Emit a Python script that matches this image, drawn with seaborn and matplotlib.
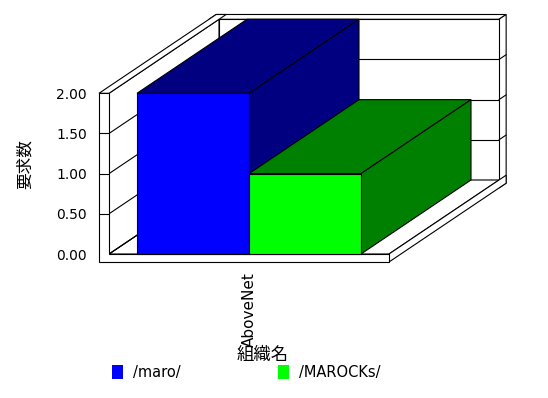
import pandas as pd
import matplotlib
matplotlib.use('Agg')
import matplotlib.pyplot as plt
from matplotlib.patches import Polygon, Patch
import seaborn as sns

# chart values
organizations = ['AboveNet']
series_names = ['/maro/', '/MAROCKs/']
request_counts = [2, 1]
y_ticks = [0.0, 0.5, 1.0, 1.5, 2.0]

front_colors = ['#0000ff', '#00ff00']
shade_colors = ['#000080', '#008000']

df = pd.DataFrame({
    '組織名': organizations * len(series_names),
    'series': series_names,
    '要求数': request_counts,
})

sns.set_style('white', {'text.color': 'black', 'axes.labelcolor': 'black',
                        'xtick.color': 'black', 'ytick.color': 'black'})
plt.rcParams['font.family'] = ['DejaVu Sans', 'Noto Sans CJK JP']

# pseudo 3d geometry (pixels per data unit)
PX_U = 112.0
PX_V = 80.35
du, dv = 110.0 / PX_U, 74.0 / PX_V   # depth offset in data units
WALL = 10.0 / PX_U                   # left wall thickness
FLOOR = 8.0 / PX_V                   # floor thickness
BACK = 1.065                         # depth of the back face of the walls
half = 1.25                          # half width of the floor
vmax = max(y_ticks)

W, H = 548, 398
fig = plt.figure(figsize=(W / 100, H / 100), dpi=100)
left_px, right_px, top_px, bot_px = 99, 508, 14, 262
ax = fig.add_axes([left_px / W, 1 - bot_px / H,
                   (right_px - left_px) / W, (bot_px - top_px) / H])

sns.barplot(data=df, x='組織名', y='要求数', hue='series', palette=front_colors,
            width=2, saturation=1, errorbar=None, edgecolor='black',
            linewidth=0.8, legend=False, zorder=6, ax=ax)

x_lo = -half - WALL
y_lo = -FLOOR
ax.set_xlim(x_lo, x_lo + (right_px - left_px) / PX_U)
ax.set_ylim(y_lo, y_lo + (bot_px - top_px) / PX_V)


def proj(u, v, z):
    return (u + z * du, v + z * dv)


def face(pts, fc='white', zorder=1):
    poly = Polygon([proj(*p) for p in pts], closed=True, facecolor=fc,
                   edgecolor='black', linewidth=0.8, zorder=zorder,
                   clip_on=False, joinstyle='miter')
    ax.add_patch(poly)


def line(p0, p1, zorder=1.5):
    a, b = proj(*p0), proj(*p1)
    ax.plot([a[0], b[0]], [a[1], b[1]], color='black', lw=0.8,
            zorder=zorder, clip_on=False)


# back wall
face([(x_lo, vmax, 1), (half, vmax, 1), (half, vmax, BACK), (x_lo, vmax, BACK)])
face([(half, y_lo, 1), (half, vmax, 1), (half, vmax, BACK), (half, y_lo, BACK)])
face([(-half, 0, 1), (half, 0, 1), (half, vmax, 1), (-half, vmax, 1)])
for t in y_ticks[1:-1]:
    line((-half, t, 1), (half, t, 1))
    line((half, t, 1), (half, t, BACK))

# floor
face([(-half, 0, 0), (half, 0, 0), (half, 0, 1), (-half, 0, 1)], zorder=1.6)
face([(half, y_lo, 0), (half, 0, 0), (half, 0, BACK), (half, y_lo, BACK)], zorder=1.6)

# left wall
face([(-half, 0, 0), (-half, vmax, 0), (-half, vmax, 1), (-half, 0, 1)], zorder=1.7)
face([(x_lo, vmax, 0), (-half, vmax, 0), (-half, vmax, BACK), (x_lo, vmax, BACK)], zorder=1.7)
for t in y_ticks[:-1]:
    line((-half, t, 0), (-half, t, 1), zorder=1.8)

# front edge of wall and floor
face([(x_lo, vmax, 0), (-half, vmax, 0), (-half, 0, 0), (half, 0, 0),
      (half, y_lo, 0), (x_lo, y_lo, 0)], zorder=1.9)
for t in y_ticks[1:-1]:
    line((x_lo, t, 0), (-half, t, 0), zorder=2)

# top and side of each bar
for i, cont in enumerate(ax.containers):
    for bar in cont:
        x0 = bar.get_x()
        x1 = x0 + bar.get_width()
        h = bar.get_height()
        face([(x0, h, 0), (x1, h, 0), (x1, h, 1), (x0, h, 1)],
             fc=shade_colors[i], zorder=3 + i)
        face([(x1, 0, 0), (x1, h, 0), (x1, h, 1), (x1, 0, 1)],
             fc=shade_colors[i], zorder=3 + i)

for s in ax.spines.values():
    s.set_visible(False)

ax.set_yticks(y_ticks)
ax.set_yticklabels([f'{t:.2f}' for t in y_ticks])
ax.tick_params(axis='y', length=0, pad=8.6, labelsize=10, labelcolor='black')
ax.tick_params(axis='x', length=0, pad=7, labelsize=11, labelrotation=90,
               labelcolor='black')

ax.set_xlabel('組織名', fontsize=12.5, color='black')
ax.xaxis.set_label_coords((263 - left_px) / (right_px - left_px),
                          (bot_px - 346) / (bot_px - top_px))
ax.set_ylabel('要求数', fontsize=12, color='black')
ax.yaxis.set_label_coords((34 - left_px) / (right_px - left_px),
                          (bot_px - 164) / (bot_px - top_px))

handles = [Patch(facecolor=c, edgecolor='none') for c in front_colors]
leg = fig.legend(handles, series_names, loc='upper left',
                 bbox_to_anchor=(112 / W, 1 - 365 / H), ncol=2, frameon=False,
                 fontsize=10.5, borderpad=0, borderaxespad=0, handlelength=0.76,
                 handleheight=1.03, handletextpad=0.7, columnspacing=6.65)
for txt in leg.get_texts():
    txt.set_color('black')

fig.savefig('out.png', dpi=100)
